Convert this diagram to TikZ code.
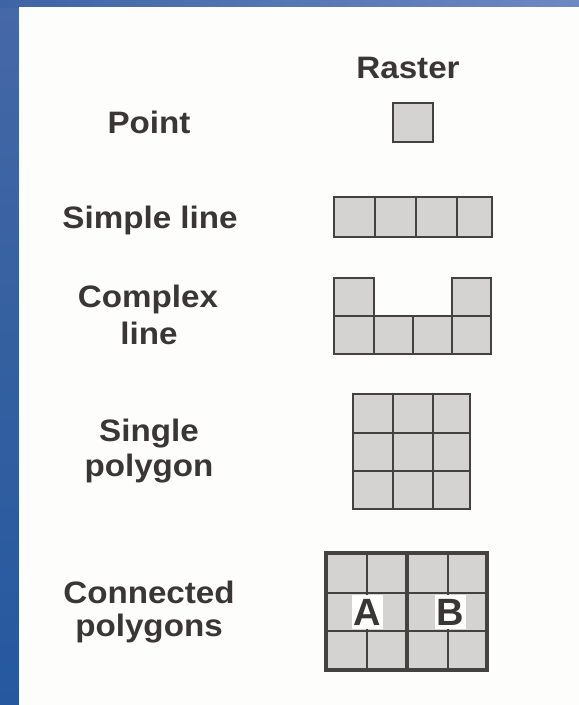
\documentclass[tikz,border=0pt]{standalone}
\usepackage{fontspec}
\setmainfont{Liberation Sans}
\newfontfamily\lblfont[FakeStretch=1.07]{Liberation Sans}
\definecolor{bandA}{RGB}{62,100,166}
\definecolor{bandB}{RGB}{110,136,194}
\definecolor{sideTop}{RGB}{70,104,168}
\definecolor{sideMid}{RGB}{52,96,160}
\definecolor{sideBot}{RGB}{38,88,160}
\definecolor{paper}{RGB}{253,253,252}
\definecolor{cellfill}{RGB}{212,211,209}
\definecolor{gridline}{RGB}{68,66,64}
\definecolor{ink}{RGB}{58,54,52}
\begin{document}
\begin{tikzpicture}[x=1pt,y=-1pt,
  cellbox/.style={fill=cellfill,draw=gridline,line width=2.8pt,line join=miter},
  gridl/.style={draw=gridline,line width=2.8pt},
  thickl/.style={draw=gridline,line width=4.8pt,line join=miter},
  lbl/.style={anchor=base,text=ink,font=\lblfont\bfseries\fontsize{31}{36}\selectfont,inner sep=0pt},
  letterbox/.style={fill=white,text=ink,font=\bfseries\fontsize{38}{40}\selectfont,inner sep=0pt,minimum width=31pt,minimum height=34pt}]
\useasboundingbox (0,0) rectangle (579,705);
% background
\shade[top color=sideTop,bottom color=sideBot,middle color=sideMid] (0,0) rectangle (19,705);
\shade[left color=bandA,right color=bandB] (0,0) rectangle (579,7);
\fill[paper] (19,7) rectangle (579,705);
% labels
\node[lbl] (raster) at (408,78) {Raster};
\node[lbl] (point) at (149,133) {Point};
\node[lbl] (simple) at (150,228) {Simple line};
\node[lbl] (complexA) at (148,307) {Complex};
\node[lbl] (complexB) at (149,344) {line};
\node[lbl] (singleA) at (149,441) {Single};
\node[lbl] (singleB) at (149,476) {polygon};
\node[lbl] (connA) at (149,603) {Connected};
\node[lbl] (connB) at (149,636) {polygons};
% point
\draw[cellbox] (393,103) rectangle (433,142);
% simple line
\draw[cellbox] (334,197) rectangle (492,237);
\draw[gridl] (375,197) -- (375,237) (416,197) -- (416,237) (457,197) -- (457,237);
% complex line
\draw[cellbox] (334,278) -- (374,278) -- (374,316) -- (452,316) -- (452,278) -- (491,278) -- (491,354) -- (334,354) -- cycle;
\draw[gridl] (334,316) -- (491,316) (374,316) -- (374,354) (413,316) -- (413,354) (452,316) -- (452,354);
% single polygon
\draw[cellbox] (353,394) rectangle (470,509);
\draw[gridl] (393,394) -- (393,509) (433,394) -- (433,509) (353,433) -- (470,433) (353,471) -- (470,471);
% connected polygons
\fill[cellfill] (326,553) rectangle (487,670);
\draw[gridl] (367,553) -- (367,670) (448,553) -- (448,670) (326,593) -- (487,593) (326,631) -- (487,631);
\draw[thickl] (407,553) -- (407,670);
\draw[thickl] (326,553) rectangle (487,670);
\node[letterbox] (A) at (367,612) {A};
\node[letterbox] (B) at (450,612) {B};
\end{tikzpicture}
\end{document}
